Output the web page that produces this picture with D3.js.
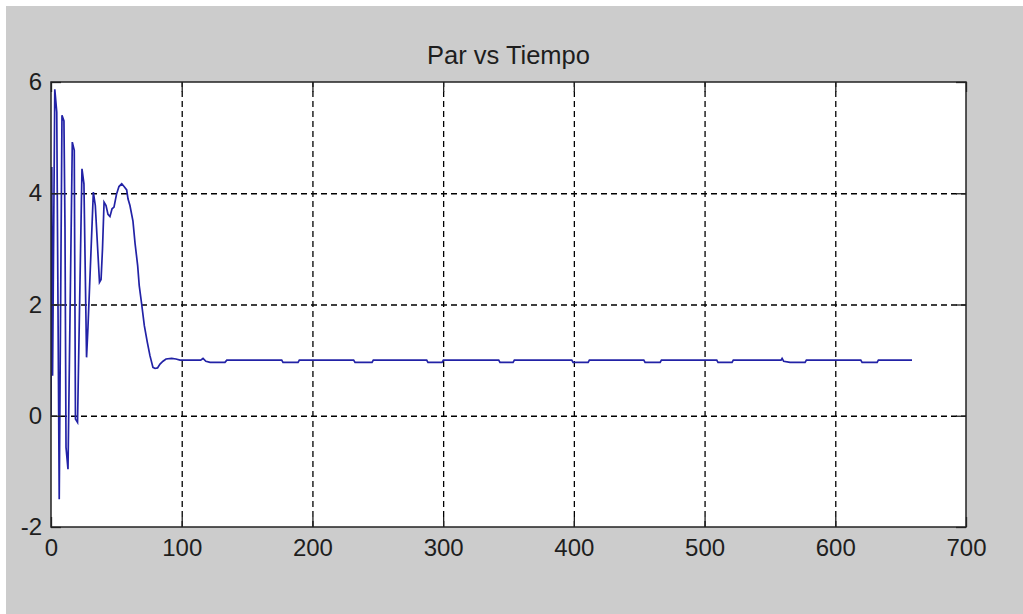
<!DOCTYPE html>
<html>
<head>
<meta charset="utf-8">
<script src="https://cdn.jsdelivr.net/npm/d3@7"></script>
<style>
  html, body { margin: 0; padding: 0; background: #ffffff; }
  svg { display: block; }
  text { font-family: "Liberation Sans", Arial, sans-serif; fill: #1e1e1e; }
</style>
</head>
<body>
<svg id="fig" width="1023" height="614"></svg>
<script>
// Torque ("Par") sampled over time ("Tiempo")
const tiempo = [
  0, 0.6, 1.2, 2.9, 4.4, 6.3, 8.4, 9.9, 10.7, 11.5, 13.0,
  16.3, 17.8, 18.7, 20.3, 23.7, 25.2, 27.2, 28.3, 32.4, 33.9,
  37.1, 38.3, 39.4, 40.6, 42.1, 43.6, 45.1, 46.7, 48.2, 50.1,
  52.0, 54.1, 55.9, 57.9, 58.9, 60.4, 62.7, 64.3, 66.3, 67.5,
  69.4, 71.4, 73.7, 75.7, 78.0, 79.6, 81.5, 83.4, 85.7, 88.0,
  92.3, 95.6, 98.7, 114.5, 116.3, 118.5, 121.7, 133.1, 134.5,
  176.5, 177.5, 189, 190, 231.5, 232.6, 245.6, 246.6, 287.4,
  288.4, 299.2, 300.2, 342.5, 343.5, 353.5, 354.5, 398.4, 399.4,
  410.9, 411.9, 453.5, 454.5, 466, 467, 509.3, 510.3, 521, 522,
  558.5, 559.3, 560.5, 565.4, 576.9, 577.9, 619.5, 620.5, 632,
  633, 658.7
];
const par = [
  0, 4.47, 0.72, 5.87, 5.46, -1.5, 5.4, 5.3, 3.39, -0.57, -0.96,
  4.92, 4.77, -0.06, -0.12, 4.44, 4.17, 1.05, 1.6, 4.02, 3.78,
  2.4, 2.45, 3.0, 3.84, 3.78, 3.62, 3.58, 3.72, 3.75, 3.98,
  4.12, 4.17, 4.12, 4.06, 3.9, 3.78, 3.5, 3.1, 2.7, 2.34,
  2.0, 1.62, 1.32, 1.08, 0.87, 0.85, 0.86, 0.93, 0.98, 1.02,
  1.03, 1.02, 1.0, 1.0, 1.03, 0.98, 0.96, 0.96, 1.0,
  1.0, 0.96, 0.96, 1.0, 1.0, 0.96, 0.96, 1.0, 1.0,
  0.96, 0.96, 1.0, 1.0, 0.96, 0.96, 1.0, 1.0, 0.96,
  0.96, 1.0, 1.0, 0.96, 0.96, 1.0, 1.0, 0.96, 0.96, 1.0,
  1.0, 1.03, 0.98, 0.96, 0.96, 1.0, 1.0, 0.96, 0.96,
  1.0, 1.0
];
const xTicks = [0, 100, 200, 300, 400, 500, 600, 700];
const yTicks = [-2, 0, 2, 4, 6];
const titulo = "Par vs Tiempo";

const svg = d3.select("#fig");
const W = 1023, H = 614;

// figure background (window frame + grey figure area)
svg.append("rect").attr("x", 0).attr("y", 0).attr("width", W).attr("height", H).attr("fill", "#ffffff");
svg.append("rect").attr("x", 6).attr("y", 6).attr("width", W - 6).attr("height", H - 6).attr("fill", "#cccccc");

const plot = { left: 51, right: 966, top: 82, bottom: 527 };
const x = d3.scaleLinear().domain([0, 700]).range([plot.left, plot.right]);
const y = d3.scaleLinear().domain([-2, 6]).range([plot.bottom, plot.top]);

// plain integer labels with an ASCII hyphen for negatives
const fmt = d => String(d);

// axes area
svg.append("rect")
  .attr("x", plot.left).attr("y", plot.top)
  .attr("width", plot.right - plot.left).attr("height", plot.bottom - plot.top)
  .attr("fill", "#ffffff");

svg.append("defs").append("clipPath").attr("id", "clip")
  .append("rect")
  .attr("x", plot.left).attr("y", plot.top)
  .attr("width", plot.right - plot.left).attr("height", plot.bottom - plot.top);

// dashed grid
const gridX = svg.append("g")
  .attr("transform", `translate(0,${plot.bottom})`)
  .call(d3.axisBottom(x).tickValues(xTicks.slice(1, -1)).tickSize(-(plot.bottom - plot.top)).tickFormat(""));
const gridY = svg.append("g")
  .attr("transform", `translate(${plot.left},0)`)
  .call(d3.axisLeft(y).tickValues(yTicks.slice(1, -1)).tickSize(-(plot.right - plot.left)).tickFormat(""));
[gridX, gridY].forEach(g => {
  g.select(".domain").remove();
  g.selectAll("line").attr("stroke", "#000").attr("stroke-width", 1.3).attr("stroke-dasharray", "6,4");
});

// data line
const line = d3.line().x((d, i) => x(tiempo[i])).y(d => y(d));
svg.append("path")
  .datum(par)
  .attr("clip-path", "url(#clip)")
  .attr("fill", "none")
  .attr("stroke", "#2222a6")
  .attr("stroke-width", 1.7)
  .attr("stroke-linejoin", "miter")
  .attr("d", line);

// inward ticks on all four sides
const tk = 10;
const axB = svg.append("g").attr("transform", `translate(0,${plot.bottom})`)
  .call(d3.axisBottom(x).tickValues(xTicks).tickSizeInner(-tk).tickSizeOuter(0).tickPadding(12).tickFormat(fmt));
const axT = svg.append("g").attr("transform", `translate(0,${plot.top})`)
  .call(d3.axisTop(x).tickValues(xTicks).tickSizeInner(-tk).tickSizeOuter(0).tickFormat(""));
const axL = svg.append("g").attr("transform", `translate(${plot.left},0)`)
  .call(d3.axisLeft(y).tickValues(yTicks).tickSizeInner(-tk).tickSizeOuter(0).tickPadding(9).tickFormat(fmt));
const axR = svg.append("g").attr("transform", `translate(${plot.right},0)`)
  .call(d3.axisRight(y).tickValues(yTicks).tickSizeInner(-tk).tickSizeOuter(0).tickFormat(""));
[axB, axT, axL, axR].forEach(g => {
  g.select(".domain").remove();
  g.selectAll("line").attr("stroke", "#222").attr("stroke-width", 1.3);
  g.selectAll("text").attr("font-size", 24).attr("fill", "#1e1e1e")
    .style("font-family", '"Liberation Sans", Arial, sans-serif');
});
axB.selectAll("text").attr("dy", "0.7em");

// axes box
svg.append("rect")
  .attr("x", plot.left).attr("y", plot.top)
  .attr("width", plot.right - plot.left).attr("height", plot.bottom - plot.top)
  .attr("fill", "none").attr("stroke", "#222").attr("stroke-width", 1.5);

// title
svg.append("text")
  .attr("x", (plot.left + plot.right) / 2).attr("y", 64)
  .attr("text-anchor", "middle").attr("font-size", 25.5)
  .text(titulo);
</script>
</body>
</html>
